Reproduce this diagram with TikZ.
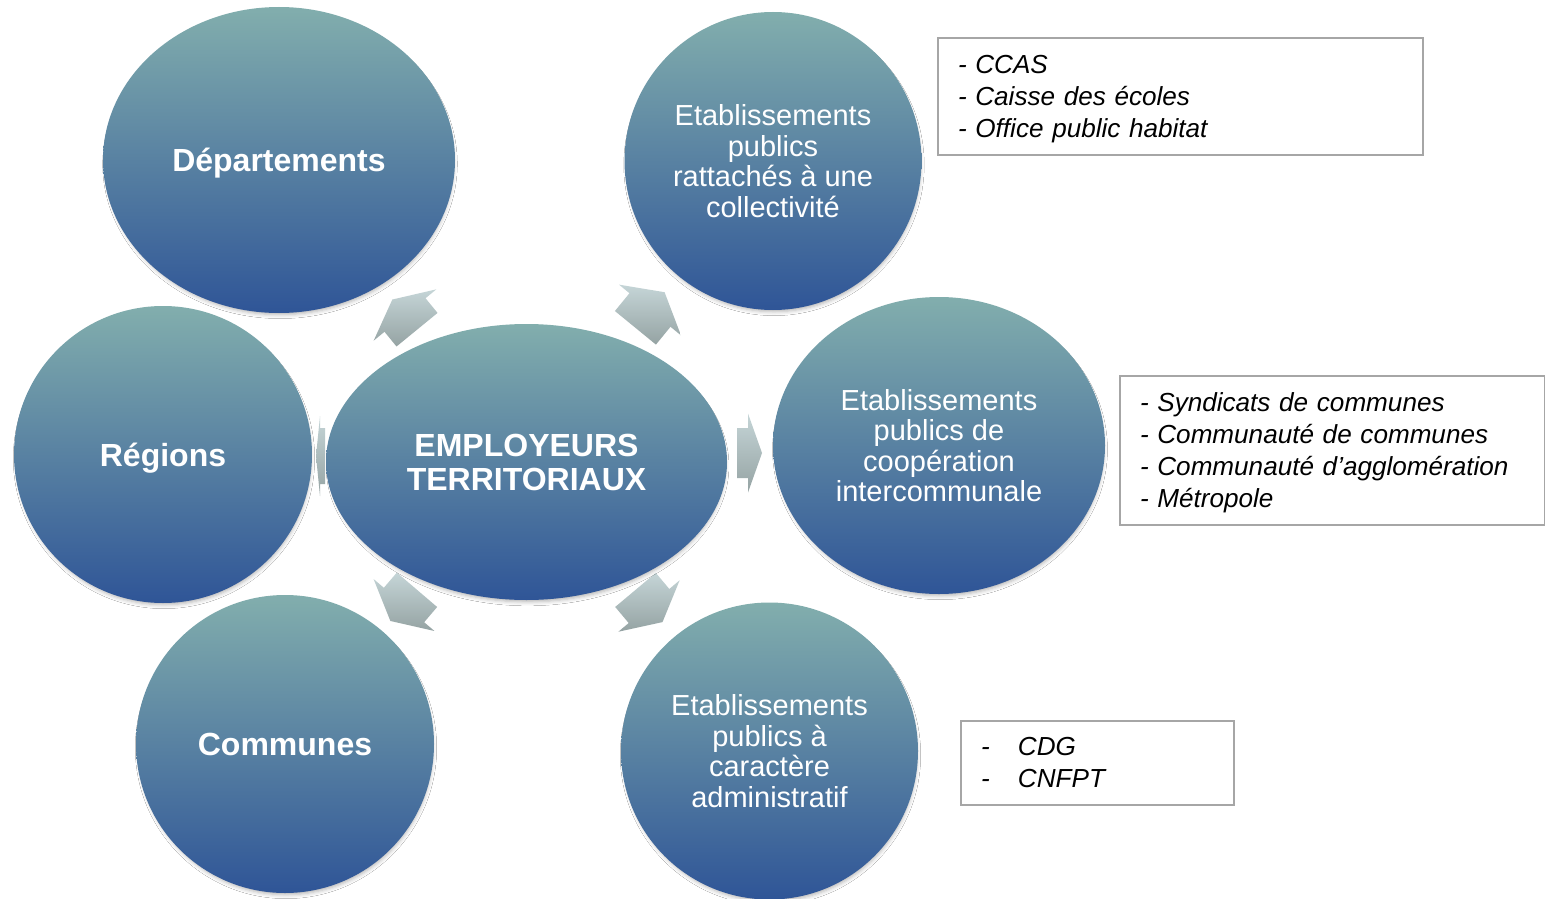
\documentclass[tikz,border=0pt]{standalone}
\usepackage{fontspec}
\setmainfont{Liberation Sans}
\usetikzlibrary{shapes.geometric,calc,shadows.blur}
\definecolor{elltop}{HTML}{82AEAD}
\definecolor{ellbot}{HTML}{2F5597}
\definecolor{arrtop}{HTML}{C5D5D7}
\definecolor{arrbot}{HTML}{95A3A3}
\definecolor{boxline}{HTML}{A6A6A6}
% #1 cx, #2 cy, #3 angle, #4 tail, #5 barb, #6 tip, #7 head half width, #8 shaft half width
\newcommand\blkarrow[8]{%
  \path[arrowfill]
    ($(#1,#2)+(#3:#4)+(#3+90:#8)$) -- ($(#1,#2)+(#3:#5)+(#3+90:#8)$) --
    ($(#1,#2)+(#3:#5)+(#3+90:#7)$) -- ($(#1,#2)+(#3:#6)$) --
    ($(#1,#2)+(#3:#5)+(#3-90:#7)$) -- ($(#1,#2)+(#3:#5)+(#3-90:#8)$) --
    ($(#1,#2)+(#3:#4)+(#3-90:#8)$) -- cycle;}
\begin{document}
\begin{tikzpicture}[x=1pt,y=-1pt,
  bubble/.style={ellipse, inner sep=0pt, top color=elltop, bottom color=ellbot,
    text=white, align=center,
    blur shadow={shadow xshift=1pt, shadow yshift=-4pt, shadow scale=0.985,
      shadow blur radius=4pt, shadow opacity=30}},
  boldlabel/.style={font=\fontsize{32}{34}\selectfont\bfseries},
  onelabel/.style={boldlabel, text height=23pt, text depth=0pt},
  plainlabel/.style={font=\fontsize{29}{30.5}\selectfont},
  infobox/.style={draw=boxline, line width=2pt, rectangle, align=left,
    font=\fontsize{26.1}{32}\selectfont\itshape, anchor=north west, inner ysep=0pt},
  arrowfill/.style={top color=arrtop, bottom color=arrbot},
]
\useasboundingbox[fill=white] (0,0) rectangle (1545,899);

% block arrows (drawn under the ellipses)
\blkarrow{405}{315}{-129.3}{-19}{0}{20}{40.5}{26.5}
\blkarrow{650}{310}{-50.7}{-23}{0}{23}{40}{26.5}
\blkarrow{404}{605}{130.5}{-20}{0}{21}{40}{26.5}
\blkarrow{649}{606}{50}{-21}{0}{21}{40}{26.5}
\blkarrow{748}{453}{0}{-11}{0}{14}{39.5}{25}
\blkarrow{320}{456}{180}{-5}{0}{4}{40}{28}

% ellipses
\node[bubble, onelabel, minimum width=352pt, minimum height=306pt] (dep) at (279,160) {Départements};
\node[bubble, plainlabel, minimum width=297pt, minimum height=298pt] (epr) at (773,161)
  {Etablissements\\publics\\rattachés à une\\collectivité};
\node[bubble, onelabel, minimum width=298pt, minimum height=297pt] (reg) at (163,454.5) {Régions};
\node[bubble, boldlabel, minimum width=401pt, minimum height=276pt] (emp) at (526.5,462)
  {EMPLOYEURS\\TERRITORIAUX};
\node[bubble, plainlabel, minimum width=332pt, minimum height=297pt] (epci) at (939,445.5)
  {Etablissements\\publics de\\coopération\\intercommunale};
\node[bubble, onelabel, minimum width=298pt, minimum height=298pt] (com) at (285,744) {Communes};
\node[bubble, plainlabel, minimum width=297pt, minimum height=297pt] (epa) at (769.5,751)
  {Etablissements\\publics à\\caractère\\administratif};

% info boxes
\node[infobox, minimum width=485pt, minimum height=117pt, text width=445pt, inner xsep=20pt]
  (box1) at (937,37) {\rule{0pt}{23pt}- CCAS\\- Caisse des écoles\\- Office public habitat};
\node[infobox, minimum width=425pt, minimum height=149pt, text width=385pt, inner xsep=20pt]
  (box2) at (1119,375) {\rule{0pt}{23pt}- Syndicats de communes\\- Communauté de communes\\- Communauté d’agglomération\\- Métropole};
\node[infobox, minimum width=273pt, minimum height=84pt, text width=233pt, inner xsep=20pt]
  (box3) at (960,720) {\makebox[37pt][l]{-}CDG\\\makebox[37pt][l]{-}CNFPT};
\end{tikzpicture}
\end{document}
